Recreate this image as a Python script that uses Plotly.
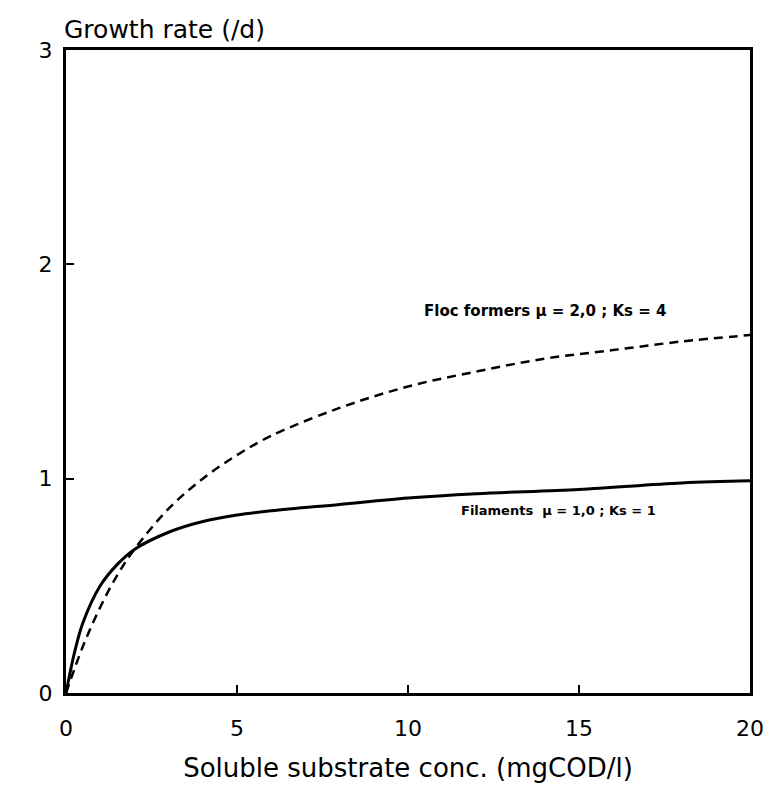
import plotly.graph_objects as go

# Filaments (solid)
fil_s = [0, 0.25, 0.5, 1.0, 1.5, 2.0, 3.0, 4.0, 5.0, 6.0, 8.0, 10.0, 12.0, 15.0, 18.0, 20.0]
fil_mu = [0, 0.19, 0.33, 0.50, 0.60, 0.67, 0.75, 0.80, 0.83, 0.85, 0.88, 0.91, 0.93, 0.95, 0.98, 0.99]

# Floc formers (dashed)
floc_s = [0, 0.5, 1.0, 1.5, 2.0, 3.0, 4.0, 5.0, 6.0, 8.0, 10.0, 12.0, 14.0, 16.0, 18.0, 20.0]
floc_mu = [0, 0.22, 0.40, 0.55, 0.67, 0.86, 1.00, 1.11, 1.20, 1.33, 1.43, 1.50, 1.56, 1.60, 1.64, 1.67]

x_ticks = [0, 5, 10, 15, 20]
y_ticks = [0, 1, 2, 3]

FONT = "DejaVu Sans, Verdana, sans-serif"

fig = go.Figure()
fig.add_trace(go.Scatter(x=floc_s, y=floc_mu, mode="lines",
                         line=dict(color="black", width=2.5, dash="9px,6px", shape="spline"), showlegend=False))
fig.add_trace(go.Scatter(x=fil_s, y=fil_mu, mode="lines",
                         line=dict(color="black", width=3, shape="spline"), showlegend=False))

fig.add_annotation(x=10.4, y=1.78, xref="x", yref="y", text="<b>Floc formers μ = 2,0 ; Ks = 4</b>",
                   showarrow=False, xanchor="left", yanchor="middle", font=dict(family=FONT, size=15, color="black"))
fig.add_annotation(x=11.5, y=0.85, xref="x", yref="y", text="<b>Filaments  μ = 1,0 ; Ks = 1</b>",
                   showarrow=False, xanchor="left", yanchor="middle", font=dict(family=FONT, size=13, color="black"))
fig.add_annotation(x=0, y=1.0, xref="paper", yref="paper", xshift=-4, yshift=4, text="Growth rate (/d)",
                   showarrow=False, xanchor="left", yanchor="bottom", font=dict(family=FONT, size=25, color="black"))

fig.update_xaxes(range=[0, 20], tickvals=x_ticks, ticktext=[str(v) for v in x_ticks],
                 ticks="inside", ticklen=8, tickwidth=2, tickcolor="black", ticklabelstandoff=14,
                 showline=True, linewidth=3, linecolor="black", mirror=True, showgrid=False, zeroline=False,
                 tickfont=dict(family=FONT, size=22, color="black"),
                 title=dict(text="Soluble substrate conc. (mgCOD/l)", font=dict(family=FONT, size=26, color="black"), standoff=19))
fig.update_yaxes(range=[0, 3], tickvals=y_ticks, ticktext=[str(v) for v in y_ticks],
                 ticks="inside", ticklen=8, tickwidth=2, tickcolor="black", ticklabelstandoff=6,
                 showline=True, linewidth=3, linecolor="black", mirror=True, showgrid=False, zeroline=False,
                 tickfont=dict(family=FONT, size=22, color="black"))

fig.update_layout(width=776, height=791, margin=dict(l=66, r=19, t=50, b=96),
                  plot_bgcolor="white", paper_bgcolor="white")

fig.write_html("out.html")
